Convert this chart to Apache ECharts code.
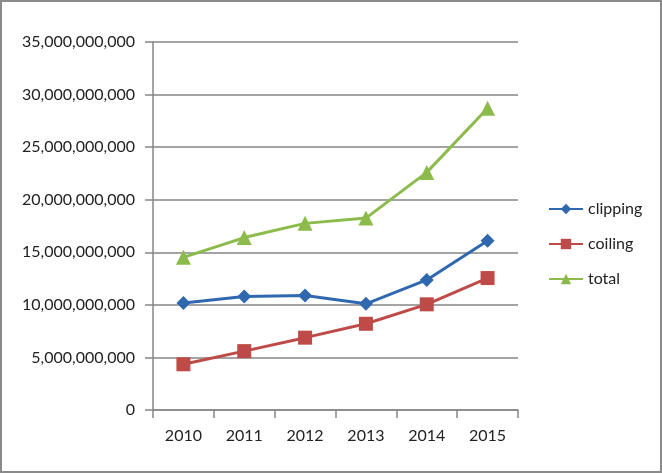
<!DOCTYPE html>
<html><head><meta charset="utf-8">
<script src="https://cdn.jsdelivr.net/npm/echarts@6/dist/echarts.min.js"></script>
<style>html,body{margin:0;padding:0;background:#fff}#c{width:662px;height:473px}</style>
</head><body><div id="c"></div>
<script>
const categories = ['2010','2011','2012','2013','2014','2015'];
const clipping = [10.18e9, 10.8e9, 10.88e9, 10.1e9, 12.37e9, 16.1e9];
const coiling  = [4.35e9, 5.6e9, 6.88e9, 8.2e9, 10.05e9, 12.55e9];
const total    = [14.52e9, 16.4e9, 17.75e9, 18.25e9, 22.6e9, 28.7e9];
const yTicks = {min: 0, max: 35e9, interval: 5e9};

const font = 'Lato, "Open Sans", sans-serif';
function fmt(v){ return String(Math.round(v)).replace(/\B(?=(\d{3})+(?!\d))/g, ','); }
const chart = echarts.init(document.getElementById('c'));
const mk = (name, data, color, symbol, size) => ({
  name, type:'line', data, symbol, symbolSize:size,
  lineStyle:{color, width:3}, itemStyle:{color}, z: 3
});
chart.setOption({
  animation:false,
  backgroundColor:'#fff',
  graphic:[{type:'rect', shape:{x:1,y:1,width:660,height:471}, style:{fill:'none', stroke:'#8a8a8a', lineWidth:2}}],
  grid:{left:153, right:144, top:42, bottom:63},
  legend:{orient:'vertical', left:543, top:196, itemWidth:34, itemHeight:13, itemGap:19,
    textStyle:{fontFamily:font, fontSize:16, color:'#222'},
    data:['clipping','coiling','total']},
  xAxis:{type:'category', data:categories, boundaryGap:true,
    axisLine:{lineStyle:{color:'#868686', width:1.5}},
    axisTick:{show:true, length:8, lineStyle:{color:'#868686', width:1.5}},
    axisLabel:{fontFamily:font, fontSize:16, color:'#222', margin:18}},
  yAxis:{type:'value', min:yTicks.min, max:yTicks.max, interval:yTicks.interval,
    axisLine:{show:true, lineStyle:{color:'#868686', width:1.5}},
    axisTick:{show:true, length:8, lineStyle:{color:'#868686', width:1.5}},
    splitLine:{lineStyle:{color:'#868686', width:1.5}},
    axisLabel:{fontFamily:font, fontSize:16, color:'#222', margin:18, formatter:fmt}},
  series:[
    mk('clipping', clipping, '#3068b0', 'diamond', 14),
    mk('coiling', coiling, '#be4b48', 'rect', 14),
    mk('total', total, '#8cbb4c', 'triangle', 15)
  ]
});
</script></body></html>
